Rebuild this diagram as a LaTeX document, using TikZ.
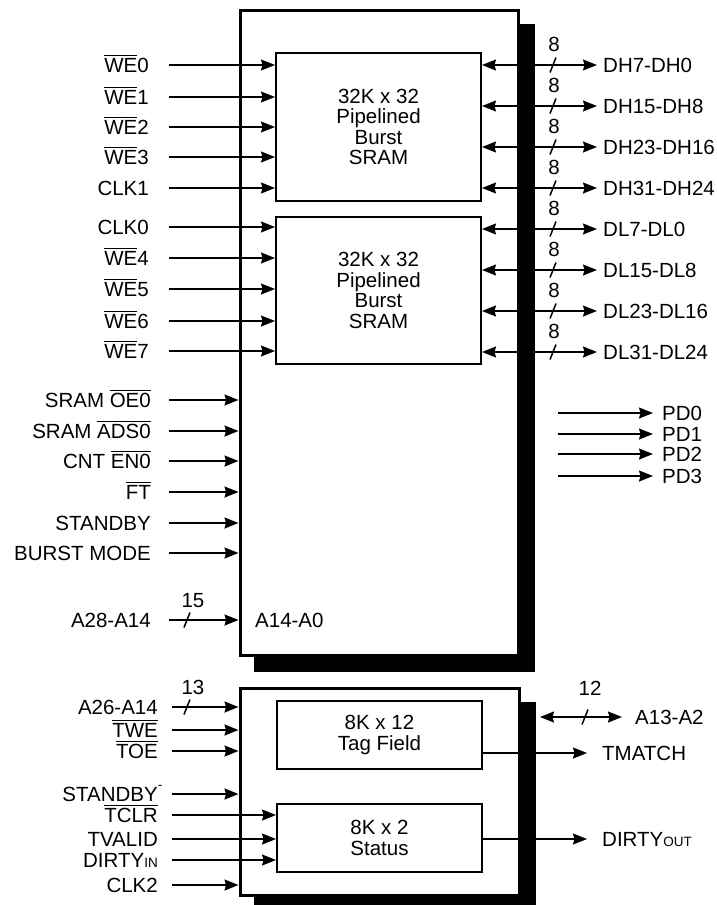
\documentclass[tikz,border=0pt]{standalone}
\usepackage{fontspec}
\setmainfont{Liberation Sans}
\usetikzlibrary{positioning,arrows.meta,calc}
\newcommand{\sigfont}{\fontsize{20.5}{20.5}\selectfont}
\newcommand{\subfont}{\fontsize{13.5}{13.5}\selectfont}
\newcommand{\ovl}[1]{\setbox0\hbox{#1}\rlap{\smash{\rule[\dimexpr\ht0+1.8pt\relax]{\wd0}{1.3pt}}}\box0\relax}
\tikzset{
  pin/.style={-{Stealth[length=14pt,width=11pt,inset=1.5pt]},line width=1.5pt},
  bipin/.style={{Stealth[length=14pt,width=11pt,inset=1.5pt]}-{Stealth[length=14pt,width=11pt,inset=1.5pt]},line width=1.5pt},
  chip/.style={draw,line width=3pt,fill=white,inner sep=0pt},
  shade/.style={draw,fill=black,line width=3pt,inner sep=0pt},
  mem/.style={draw,line width=2pt,fill=white,align=center,inner sep=0pt,minimum width=205pt},
  sig/.style={inner sep=0pt,text height=14.5pt,text depth=0pt},
  slash/.style={line width=1.5pt},
}

\begin{document}
\begin{tikzpicture}[x=1pt,y=-1pt,font=\sigfont]
    \useasboundingbox (0,0) rectangle (717,905);
    % Cache data chip
    \node[shade,minimum width=278pt,minimum height=645pt] (mainsh) at (394,347.5) {};
    \node[chip,minimum width=278pt,minimum height=645pt] (main) at (379,332.5) {};
    \node[mem,minimum height=148pt] (sramA) at (378.5,127) {32K x 32\\Pipelined\\Burst\\SRAM};
    \node[mem,minimum height=147pt] (sramB) at (378.5,290.5) {32K x 32\\Pipelined\\Burst\\SRAM};
    % Tag chip
    \node[shade,minimum width=279pt,minimum height=207pt] (tagsh) at (394.5,806.5) {};
    \node[chip,minimum width=279pt,minimum height=207pt] (tagchip) at (379.5,791.5) {};
    \node[mem,minimum height=68pt] (tag) at (379.5,735) {8K x 12\\Tag Field};
    \node[mem,minimum height=68pt] (stat) at (379.5,838) {8K x 2\\Status};
    % Write enables and clocks
    \foreach \lab/\y/\tgt [count=\k] in {\ovl{WE}0/65/sramA,\ovl{WE}1/97/sramA,\ovl{WE}2/127/sramA,
        \ovl{WE}3/157/sramA,CLK1/188/sramA,CLK0/227/sramB,\ovl{WE}4/258/sramB,\ovl{WE}5/289/sramB,
        \ovl{WE}6/321/sramB,\ovl{WE}7/351/sramB}{
      \node[sig,anchor=east] (we\k) at (149,\y) {\lab};
      \draw[pin] ([xshift=20pt]we\k.east) -- (\tgt.west |- we\k.east);
    }
    % Control inputs
    \foreach \lab/\y [count=\k] in {SRAM \ovl{OE0}/400,SRAM \ovl{ADS0}/431,CNT \ovl{EN0}/461,
        \ovl{FT}/492,STANDBY/523,BURST MODE/553,A28-A14/620}{
      \node[sig,anchor=east] (ctl\k) at (151,\y) {\lab};
      \draw[pin] ([xshift=18pt]ctl\k.east) -- (main.west |- ctl\k.east);
    }
    \draw[slash] (184,627.5) -- (190,612.5);
    \node[sig] (bus15) at (193,600) {15};
    \node[sig,anchor=west] (addr) at (255,620) {A14-A0};
    % Data buses
    \foreach \lab/\y/\src [count=\k] in {DH7-DH0/65/sramA,DH15-DH8/106/sramA,DH23-DH16/147/sramA,
        DH31-DH24/188/sramA,DL7-DL0/229/sramB,DL15-DL8/270/sramB,DL23-DL16/311/sramB,
        DL31-DL24/352/sramB}{
      \node[sig,anchor=west] (dq\k) at (603,\y) {\lab};
      \draw[bipin] (\src.east |- dq\k.west) -- ([xshift=-6pt]dq\k.west);
      \draw[slash] (550,\y+7.5) -- (556,\y-7.5);
      \node[sig] (bus\k) at (554,\y-21) {8};
    }
    % Parity
    \foreach \y [count=\k from 0] in {413,434,454,476}{
      \node[sig,anchor=west] (pd\k) at (662,\y) {PD\k};
      \coordinate (pds\k) at (558,\y);
      \draw[pin] (pds\k) -- ([xshift=-9pt]pd\k.west);
    }
    % Tag inputs
    \foreach \lab/\y/\tgt [count=\k] in {A26-A14/707/tagchip,\ovl{TWE}/730/tagchip,\ovl{TOE}/751/tagchip,
        STANDBY\rlap{\raisebox{12pt}{\subfont -}}/794/tagchip,\ovl{TCLR}/815/stat,TVALID/839/stat,
        DIRTY{\subfont IN}/860/stat,CLK2/885/tagchip}{
      \node[sig,anchor=east] (tg\k) at (158,\y) {\lab};
      \draw[pin] ([xshift=14pt]tg\k.east) -- (\tgt.west |- tg\k.east);
    }
    \draw[slash] (184,714.5) -- (190,699.5);
    \node[sig] (bus13) at (193,687) {13};
    % Tag outputs
    \node[sig,anchor=west] (low) at (635,717) {A13-A2};
    \coordinate (lows) at (540,717);
    \draw[bipin] (lows) -- ([xshift=-13pt]low.west);
    \draw[slash] (582,724.5) -- (588,709.5);
    \node[sig] (bus12) at (590,688) {12};
    \node[sig,anchor=west] (tm) at (602,753) {TMATCH};
    \draw[pin] (tag.east |- tm.west) -- ([xshift=-15pt]tm.west);
    \node[sig,anchor=west] (dout) at (602,839) {DIRTY{\subfont OUT}};
    \draw[pin] (stat.east |- dout.west) -- ([xshift=-15pt]dout.west);
\end{tikzpicture}
\end{document}
